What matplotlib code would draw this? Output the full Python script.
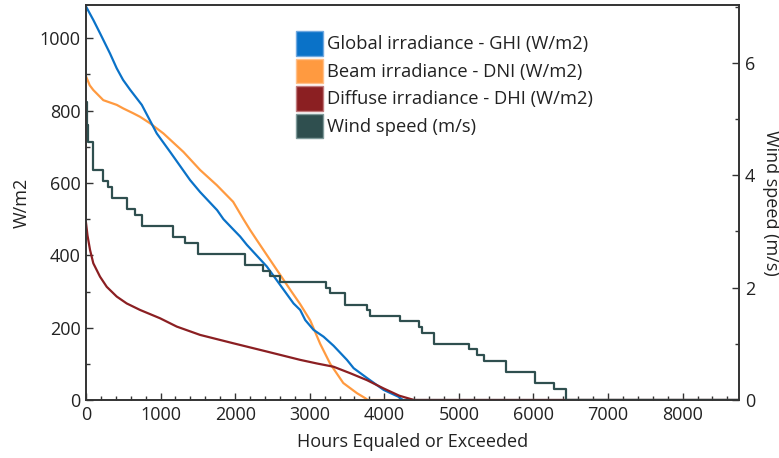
import numpy as np
import matplotlib.pyplot as plt
from matplotlib.patches import Patch

plt.rcParams['font.family'] = ['Open Sans', 'DejaVu Sans']

# duration curves, hours equaled or exceeded
ghi_hours = [0, 100, 188, 322, 412, 497, 591, 748, 949, 1128, 1396, 1530, 1758, 1843,
             1973, 2067, 2157, 2425, 2604, 2783, 2872, 2940, 3051, 3186, 3320, 3499, 3589,
             3767, 3991, 4190, 4250, 8760]
ghi = [1088, 1050, 1014, 958, 917, 885, 858, 816, 737, 686, 608, 575, 525, 500,
       472, 452, 429, 369, 318, 267, 249, 221, 194, 175, 150, 111, 88,
       61, 28, 9, 0, 0]

dni_hours = [0, 50, 98, 232, 412, 501, 631, 725, 859, 1038, 1306, 1530, 1754, 1973,
             2111, 2201, 2291, 2470, 2604, 2738, 2872, 3007, 3141, 3275, 3450, 3633,
             3745, 3780, 8760]
dni = [895, 870, 857, 829, 816, 806, 793, 783, 765, 737, 686, 636, 594, 548,
       500, 470, 442, 387, 346, 305, 265, 220, 155, 100, 47, 19,
       5, 0, 0]

dhi_hours = [0, 20, 54, 98, 188, 278, 412, 546, 725, 993, 1217, 1530, 1973, 2425,
             2872, 3097, 3320, 3544, 3767, 3991, 4200, 4349, 4400, 8760]
dhi = [490, 455, 415, 378, 341, 313, 286, 267, 249, 226, 203, 180, 157, 134,
       111, 101, 92, 74, 55, 32, 12, 3, 0, 0]

wind_hours = [0, 13, 31, 98, 232, 299, 345, 546, 658, 748, 1172, 1329, 1507, 2134,
              2380, 2470, 2604, 3221, 3275, 3477, 3768, 3812, 4215, 4460, 4506, 4662,
              5132, 5244, 5333, 5638, 6027, 6272, 6439, 8760]
wind = [5.3, 4.9, 4.6, 4.1, 3.9, 3.8, 3.6, 3.4, 3.3, 3.1, 2.9, 2.8, 2.6, 2.4,
        2.3, 2.2, 2.1, 2.0, 1.9, 1.7, 1.6, 1.5, 1.4, 1.3, 1.2, 1.0,
        0.9, 0.8, 0.7, 0.5, 0.3, 0.2, 0.0, 0.0]

c_ghi = '#0A72C8'
c_dni = '#FF9A40'
c_dhi = '#8B1F22'
c_wind = '#2F4F4F'
txt = '#222222'

fig = plt.figure(figsize=(7.79, 4.58), dpi=100)
ax = fig.add_axes([0.1104, 0.1266, 0.8386, 0.8624])
ax2 = ax.twinx()

ax.plot(ghi_hours, ghi, color=c_ghi, lw=1.6, zorder=3)
ax.plot(dni_hours, dni, color=c_dni, lw=1.6, zorder=2)
ax.plot(dhi_hours, dhi, color=c_dhi, lw=1.6, zorder=4)
ax2.plot(wind_hours, wind, color=c_wind, lw=1.6, drawstyle='steps-post')

ax.set_xlim(0, 8760)
ax.set_ylim(0, 1092)
ax2.set_ylim(0, 7.03)

ax.set_xticks(np.arange(0, 9000, 1000))
ax.set_xticks(np.arange(0, 8800, 200), minor=True)
ax.set_yticks(np.arange(0, 1100, 200))
ax.set_yticks(np.arange(0, 1100, 100), minor=True)
ax2.set_yticks([0, 2, 4, 6])
ax2.set_yticks([1, 3, 5, 7], minor=True)

for a in (ax, ax2):
    a.tick_params(which='major', direction='in', length=5, width=1, labelsize=13,
                  colors='#333333', labelcolor=txt, pad=4)
    a.tick_params(which='minor', direction='in', length=3, width=1, colors='#333333')
    for s in a.spines.values():
        s.set_color('#333333')
        s.set_linewidth(1.2)
ax.tick_params(top=False, which='both')

ax.set_xlabel('Hours Equaled or Exceeded', fontsize=13, color=txt, labelpad=7)
ax.set_ylabel('W/m2', fontsize=13, color=txt, labelpad=6)
ax2.set_ylabel('Wind speed (m/s)', fontsize=13, color=txt, rotation=270, labelpad=18)

handles = [Patch(facecolor=c_ghi, edgecolor='#6FA8E0'),
           Patch(facecolor=c_dni, edgecolor='#FFC08A'),
           Patch(facecolor=c_dhi, edgecolor='#C07A7C'),
           Patch(facecolor=c_wind, edgecolor='#7F9A9A')]
labels = ['Global irradiance - GHI (W/m2)', 'Beam irradiance - DNI (W/m2)',
          'Diffuse irradiance - DHI (W/m2)', 'Wind speed (m/s)']
leg = ax2.legend(handles, labels, loc='upper left', bbox_to_anchor=(0.321, 0.934),
                 frameon=False, fontsize=13.2, handlelength=1.5, handleheight=1.7,
                 handletextpad=0.2, labelspacing=0.15, borderpad=0, borderaxespad=0)
for t in leg.get_texts():
    t.set_color(txt)

fig.savefig('out.png', dpi=100)
